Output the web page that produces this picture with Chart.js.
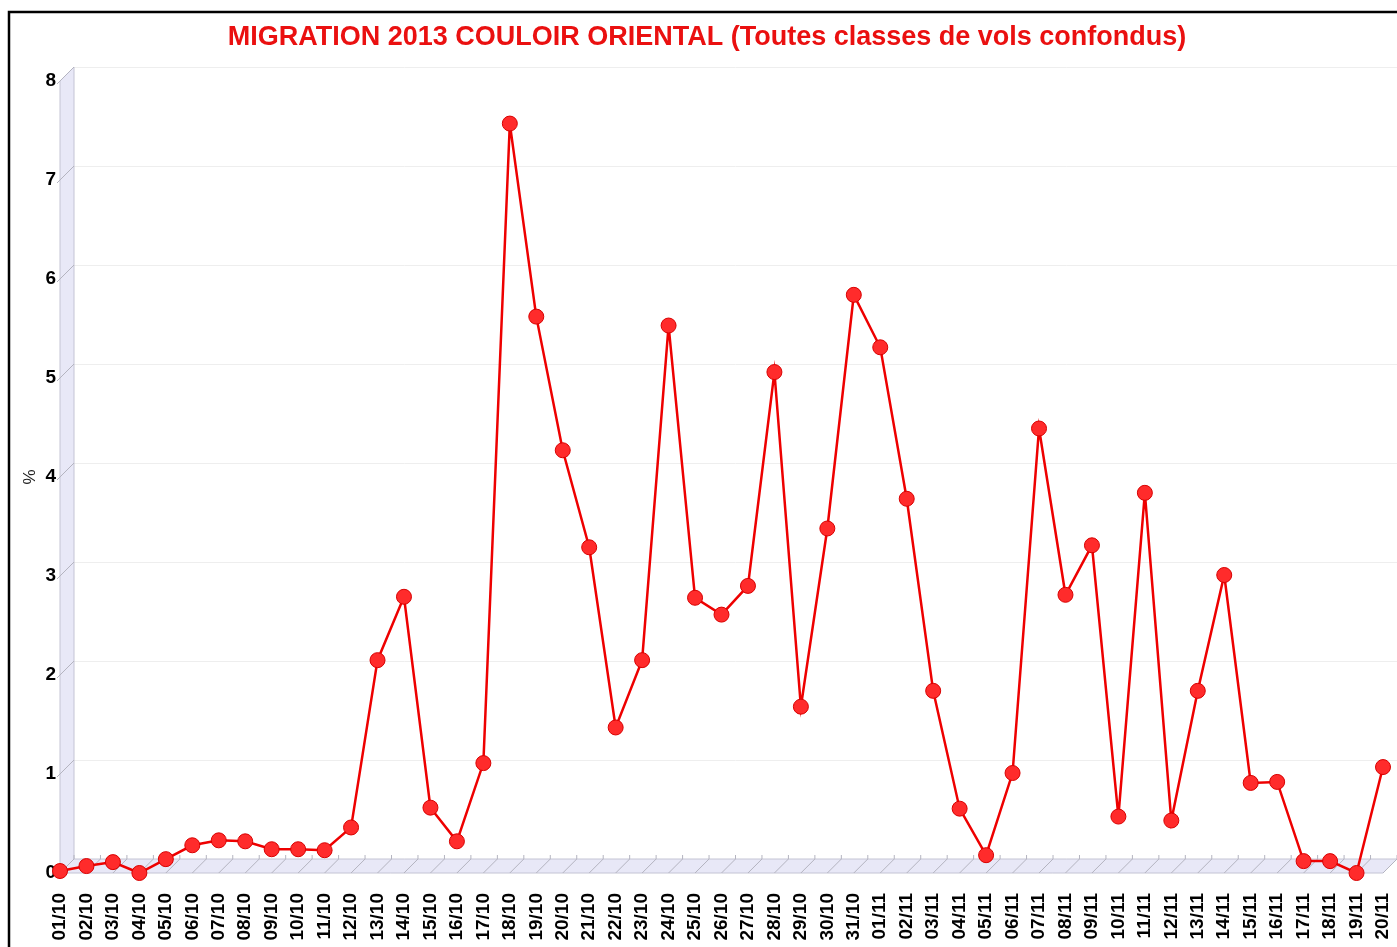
<!DOCTYPE html>
<html>
<head>
<meta charset="utf-8">
<script src="https://cdn.jsdelivr.net/npm/chart.js@4.4.0/dist/chart.umd.min.js"></script>
<style>
  html, body { margin: 0; padding: 0; background: #fff; }
  #wrap { width: 1397px; height: 947px; }
</style>
</head>
<body>
<div id="wrap"><canvas id="migrationChart"></canvas></div>
<script>
// Daily share of migration, eastern corridor 2013
const days = ['01/10', '02/10', '03/10', '04/10', '05/10', '06/10', '07/10', '08/10', '09/10', '10/10',
    '11/10', '12/10', '13/10', '14/10', '15/10', '16/10', '17/10', '18/10', '19/10', '20/10',
    '21/10', '22/10', '23/10', '24/10', '25/10', '26/10', '27/10', '28/10', '29/10', '30/10',
    '31/10', '01/11', '02/11', '03/11', '04/11', '05/11', '06/11', '07/11', '08/11', '09/11',
    '10/11', '11/11', '12/11', '13/11', '14/11', '15/11', '16/11', '17/11', '18/11', '19/11', '20/11'];
const percents = [0.02, 0.07, 0.11, 0.0, 0.14, 0.28, 0.33, 0.32, 0.24, 0.24,
    0.23, 0.46, 2.15, 2.79, 0.66, 0.32, 1.11, 7.57, 5.62, 4.27,
    3.29, 1.47, 2.15, 5.53, 2.78, 2.61, 2.90, 5.06, 1.68, 3.48,
    5.84, 5.31, 3.78, 1.84, 0.65, 0.18, 1.01, 4.49, 2.81, 3.31,
    0.57, 3.84, 0.53, 1.84, 3.01, 0.91, 0.92, 0.12, 0.12, 0.0, 1.07];
const yTicks = [0, 1, 2, 3, 4, 5, 6, 7, 8];

const chartTitle = 'MIGRATION 2013 COULOIR ORIENTAL (Toutes classes de vols confondus)';
const DEPTH = 14;

// 3D-ish wall, floor, back grid, frame and title
const decorPlugin = {
    id: 'decor',
    beforeDatasetsDraw(chart) {
        const { ctx, chartArea: a, scales: { x, y } } = chart;
        const W = chart.width;
        ctx.save();

        // back grid lines
        ctx.strokeStyle = '#eeeeee';
        ctx.lineWidth = 1;
        yTicks.forEach(v => {
            if (v === 0) return;
            const py = Math.round(y.getPixelForValue(v) - DEPTH) + 0.5;
            ctx.beginPath();
            ctx.moveTo(a.left + DEPTH, py);
            ctx.lineTo(W, py);
            ctx.stroke();
        });

        // left wall
        ctx.fillStyle = '#e8e8f7';
        ctx.strokeStyle = '#c4c4d4';
        ctx.beginPath();
        ctx.moveTo(a.left, a.bottom);
        ctx.lineTo(a.left + DEPTH, a.bottom - DEPTH);
        ctx.lineTo(a.left + DEPTH, a.top - DEPTH);
        ctx.lineTo(a.left, a.top);
        ctx.closePath();
        ctx.fill();
        ctx.stroke();

        // floor
        ctx.beginPath();
        ctx.moveTo(a.left, a.bottom);
        ctx.lineTo(a.right, a.bottom);
        ctx.lineTo(a.right + DEPTH, a.bottom - DEPTH);
        ctx.lineTo(a.left + DEPTH, a.bottom - DEPTH);
        ctx.closePath();
        ctx.fill();
        ctx.stroke();

        // tick diagonals on wall
        ctx.strokeStyle = '#b4b4c0';
        yTicks.forEach(v => {
            const py = y.getPixelForValue(v);
            ctx.beginPath();
            ctx.moveTo(a.left - 3, py + 3);
            ctx.lineTo(a.left + DEPTH, py - DEPTH);
            ctx.stroke();
        });

        // hatch on floor
        days.forEach((d, i) => {
            const px = x.getPixelForValue(i);
            ctx.beginPath();
            ctx.moveTo(px, a.bottom);
            ctx.lineTo(px + DEPTH, a.bottom - DEPTH);
            ctx.moveTo(px + DEPTH, a.bottom - DEPTH);
            ctx.lineTo(px + DEPTH, a.bottom - DEPTH - 4);
            ctx.stroke();
        });
        ctx.restore();
    },
    afterDraw(chart) {
        const { ctx } = chart;
        ctx.save();
        // frame
        ctx.strokeStyle = '#000';
        ctx.lineWidth = 2.5;
        ctx.beginPath();
        ctx.moveTo(9, chart.height);
        ctx.lineTo(9, 12);
        ctx.lineTo(chart.width, 12);
        ctx.stroke();
        // title
        ctx.fillStyle = '#ea1010';
        ctx.font = 'bold 27px "Liberation Sans", Arial, sans-serif';
        ctx.textAlign = 'center';
        ctx.textBaseline = 'middle';
        ctx.fillText(chartTitle, 707, 38);
        ctx.restore();
    }
};

const tickFont = { family: '"Liberation Sans", Arial, sans-serif', size: 19, weight: 'bold' };

new Chart(document.getElementById('migrationChart'), {
    type: 'line',
    data: {
        labels: days,
        datasets: [{
            data: percents,
            borderColor: '#ee0000',
            borderWidth: 2.5,
            backgroundColor: '#ff2b2b',
            pointBackgroundColor: '#ff2b2b',
            pointBorderColor: '#d80000',
            pointBorderWidth: 1,
            pointRadius: 7.5,
            tension: 0,
            clip: false
        }]
    },
    options: {
        responsive: true,
        maintainAspectRatio: false,
        animation: false,
        layout: { padding: { top: 81, right: 14, bottom: 0, left: 0 } },
        plugins: {
            legend: { display: false },
            tooltip: { enabled: false },
            title: { display: false }
        },
        scales: {
            x: {
                offset: false,
                grid: { display: false, drawTicks: false },
                border: { display: false },
                ticks: {
                    autoSkip: false,
                    minRotation: 90,
                    maxRotation: 90,
                    padding: 20,
                    color: '#000',
                    font: tickFont
                },
                afterFit(scale) {
                    scale.height = 74;
                    scale.paddingLeft = 0;
                    scale.paddingRight = 0;
                }
            },
            y: {
                min: 0,
                max: 8,
                afterBuildTicks(scale) { scale.ticks = yTicks.map(v => ({ value: v })); },
                grid: { display: false, drawTicks: false },
                border: { display: false },
                ticks: {
                    padding: 4,
                    color: '#000',
                    font: tickFont
                },
                title: {
                    display: true,
                    text: '%',
                    color: '#222',
                    font: { family: '"Liberation Sans", Arial, sans-serif', size: 17 },
                    padding: { top: 20, bottom: 0 }
                },
                afterFit(scale) {
                    scale.width = 60;
                    scale.paddingTop = 0;
                    scale.paddingBottom = 0;
                }
            }
        }
    },
    plugins: [decorPlugin]
});
</script>
</body>
</html>
